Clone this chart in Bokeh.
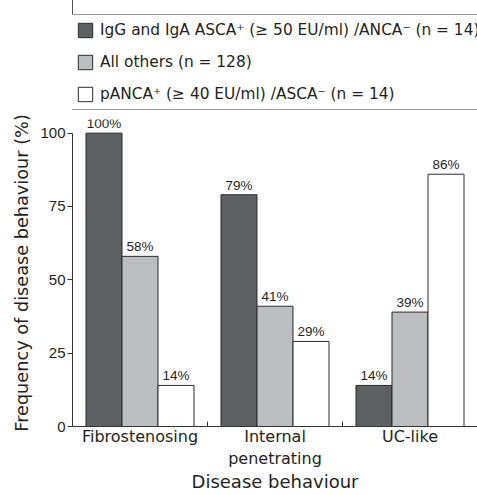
import numpy as np
from bokeh.plotting import figure
from bokeh.layouts import column
from bokeh.models import Range1d, FixedTicker, Legend, LegendItem, ColumnDataSource
from bokeh.core.properties import value
from bokeh.embed import file_html
from bokeh.resources import INLINE

categories = ["Fibrostenosing", "Internal\npenetrating", "UC-like"]
series_names = [
    "IgG and IgA ASCA\u207a (\u2265 50 EU/ml) /ANCA\u207b (n = 14)",
    "All others (n = 128)",
    "pANCA\u207a (\u2265 40 EU/ml) /ASCA\u207b (n = 14)",
]
asca_pos = [100, 79, 14]
all_others = [58, 41, 39]
panca_pos = [14, 29, 86]
y_ticks = [0, 25, 50, 75, 100]

series_values = [asca_pos, all_others, panca_pos]
colors = ["#5f6064", "#bcbdc1", "#ffffff"]
bar_w = 0.2667
offsets = [-bar_w, 0.0, bar_w]

TXT = "#231f20"
FONT = "DejaVu Sans"
NUMFONT = "Liberation Sans"
EDGE = "#2b2b2b"

centers = np.arange(len(categories)) + 0.5

# ---- legend strip (top); its bars lie outside its visible range ----
lf = figure(width=477, height=110, output_backend="svg", toolbar_location=None,
            x_range=Range1d(100, 101), y_range=Range1d(0, 1),
            min_border=0, x_axis_type=None, y_axis_type=None)
lf.outline_line_color = None
lf.grid.grid_line_color = None
lf.border_fill_color = "white"
lf.background_fill_color = "white"
legend_renderers = []
for vals, col, off in zip(series_values, colors, offsets):
    legend_renderers.append(lf.vbar(x=centers + off, top=vals, width=bar_w, bottom=0,
                                    fill_color=col, line_color=EDGE, line_width=1))
legend = Legend(items=[LegendItem(label=n, renderers=[r]) for n, r in zip(series_names, legend_renderers)],
                location=(-3, 0), orientation="vertical",
                glyph_width=18, glyph_height=18, label_height=14, label_width=10,
                label_standoff=6, spacing=14, padding=6, margin=0,
                label_text_font=FONT, label_text_font_size="15.4px", label_text_color=TXT,
                border_line_color="#333333", border_line_width=1,
                background_fill_color="white", background_fill_alpha=1.0)
lf.add_layout(legend, "center")

# ---- main chart ----
p = figure(width=477, height=385, output_backend="svg", toolbar_location=None,
           x_range=Range1d(0, 3), y_range=Range1d(0, 104.65),
           min_border_left=72, min_border_right=0, min_border_top=9, min_border_bottom=68)
p.outline_line_color = None
p.grid.grid_line_color = None
p.background_fill_color = "white"
p.border_fill_color = "white"

for vals, col, off in zip(series_values, colors, offsets):
    src = ColumnDataSource(dict(x=centers + off, top=vals, lab=[f"{v}%" for v in vals]))
    p.vbar(x="x", top="top", width=bar_w, bottom=0, source=src,
           fill_color=col, line_color=EDGE, line_width=1)
    p.text(x="x", y="top", text="lab", source=src, text_align="center",
           text_baseline="bottom", y_offset=-2, text_font=value(NUMFONT),
           text_font_size="13.5px", text_color=TXT)

# y axis
ya = p.yaxis[0]
ya.ticker = FixedTicker(ticks=y_ticks)
ya.bounds = (0, 100)
ya.major_tick_in = 0
ya.major_tick_out = 5
ya.minor_tick_line_color = None
ya.major_label_standoff = 2
ya.major_label_text_font = NUMFONT
ya.major_label_text_font_size = "15px"
ya.major_label_text_color = TXT
ya.axis_line_color = "#333333"
ya.major_tick_line_color = "#333333"
ya.axis_label = "Frequency of disease behaviour (%)"
ya.axis_label_text_font = FONT
ya.axis_label_text_font_size = "17.7px"
ya.axis_label_text_font_style = "normal"
ya.axis_label_text_color = TXT
ya.axis_label_standoff = 5

# x axis
xa = p.xaxis[0]
xa.ticker = FixedTicker(ticks=list(centers), minor_ticks=[1, 2])
xa.major_label_overrides = {float(c): lab for c, lab in zip(centers, categories)}
xa.major_tick_line_color = None
xa.major_tick_in = 0
xa.major_tick_out = 0
xa.minor_tick_in = 5
xa.minor_tick_out = 0
xa.minor_tick_line_color = "#333333"
xa.axis_line_color = "#333333"
xa.major_label_standoff = 0
xa.major_label_text_font = FONT
xa.major_label_text_font_size = "16px"
xa.major_label_text_color = TXT
xa.axis_label = "Disease behaviour"
xa.axis_label_text_font = FONT
xa.axis_label_text_font_size = "18px"
xa.axis_label_text_font_style = "normal"
xa.axis_label_text_color = TXT
xa.axis_label_standoff = 0

layout = column(lf, p, spacing=0)
open("out.html", "w").write(file_html(layout, INLINE))
